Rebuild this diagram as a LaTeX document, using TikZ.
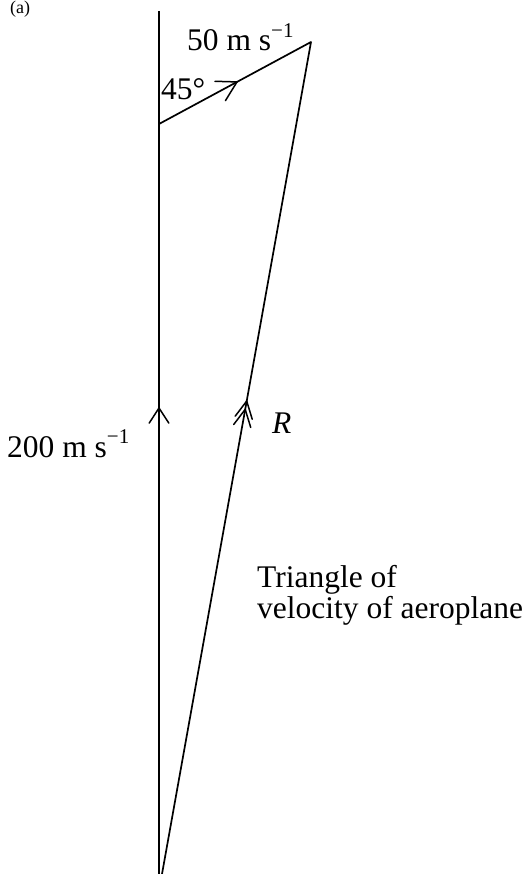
\documentclass[tikz,border=0pt]{standalone}
\usepackage{fontspec}
\setmainfont{Liberation Serif}
\usetikzlibrary{calc}
\tikzset{
  lbl/.style={anchor=base west, inner sep=0pt, font=\fontsize{31.5}{32}\selectfont},
  edge/.style={line width=1.7pt, line cap=round, line join=round},
  axis/.style={line width=2.2pt},
  chev/.style={line width=1.5pt, line cap=round, line join=miter}
}
\newcommand{\supm}[1]{\raisebox{0.42em}{\fontsize{21}{21}\selectfont #1}}
\begin{document}
\begin{tikzpicture}[x=1pt,y=-1pt]
\useasboundingbox (0,0) rectangle (523,874);
% vertices
\coordinate (Vtop) at (159,11);
\coordinate (Vbot) at (159,874);
\coordinate (L) at (159,124);
\coordinate (T) at (311,42);
\coordinate (O) at (162,874);
% lines
\draw[axis] (Vtop) -- (Vbot);
\draw[edge] (L) -- (T) -- (O);
% chevron on vertical line
\coordinate (av) at (159,408);
\draw[chev] ($(av)!18pt!33:(Vbot)$) -- (av) -- ($(av)!18pt!-33:(Vbot)$);
% chevron on top line
\coordinate (at) at ($(L)!0.513!(T)$);
\draw[chev] ($(at)!22pt!30:(L)$) -- (at) -- ($(at)!22pt!-30:(L)$);
% double chevron on R line
\coordinate (ar1) at ($(O)!0.5685!(T)$);
\coordinate (ar2) at ($(O)!0.5585!(T)$);
\draw[chev] ($(ar1)!19pt!27:(O)$) -- (ar1) -- ($(ar1)!19pt!-27:(O)$);
\draw[chev] ($(ar2)!19pt!27:(O)$) -- (ar2) -- ($(ar2)!19pt!-27:(O)$);
% labels
\node[lbl, font=\fontsize{18}{18}\selectfont] (tag) at (10,14) {(a)};
\node[lbl] (v50) at (187,51) {50 m s\supm{−1}};
\node[lbl] (ang) at (161,100) {45°};
\node[lbl] (v200) at (7,457) {200 m s\supm{−1}};
\node[lbl] (Rl) at (272,433) {\itshape R};
\node[lbl] (cap1) at (257,587) {Triangle of};
\node[lbl] (cap2) at (257,618) {velocity of aeroplane};
\end{tikzpicture}
\end{document}
